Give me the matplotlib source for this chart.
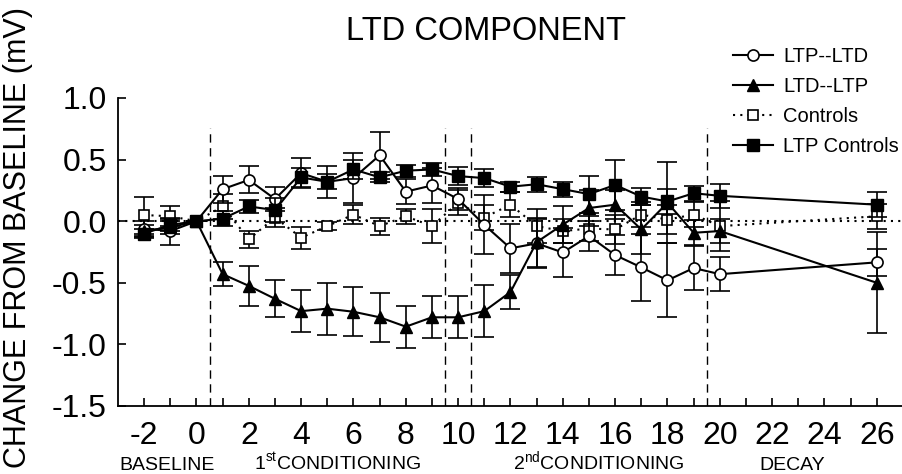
import matplotlib
matplotlib.use("Agg")
import matplotlib.pyplot as plt
from matplotlib.lines import Line2D
import numpy as np

plt.rcParams['font.family'] = ['Liberation Sans', 'DejaVu Sans']
plt.rcParams['mathtext.fontset'] = 'custom'
plt.rcParams['mathtext.rm'] = 'Liberation Sans'

sessions = [-2, -1, 0, 1, 2, 3, 4, 5, 6, 7, 8, 9, 10, 11, 12, 13, 14, 15, 16, 17, 18, 19, 20, 26]

ltp_ltd = [-0.06, -0.08, 0.0, 0.26, 0.335, 0.18, 0.39, 0.32, 0.35, 0.535, 0.24, 0.29, 0.18, -0.03,
           -0.22, -0.18, -0.254, -0.12, -0.275, -0.375, -0.48, -0.38, -0.43, -0.334]
ltp_ltd_err = [0.06, 0.11, 0.0, 0.11, 0.11, 0.10, 0.12, 0.13, 0.20, 0.19, 0.10, 0.14, 0.09, 0.24,
               0.20, 0.20, 0.20, 0.12, 0.16, 0.27, 0.30, 0.18, 0.14, 0.11]

ltd_ltp = [-0.08, -0.05, 0.0, -0.43, -0.525, -0.63, -0.73, -0.71, -0.735, -0.78, -0.856, -0.78, -0.78, -0.73,
           -0.575, -0.17, -0.027, 0.107, 0.134, -0.067, 0.15, -0.094, -0.08, -0.50]
ltd_ltp_err = [0.05, 0.05, 0.0, 0.10, 0.16, 0.15, 0.17, 0.21, 0.20, 0.20, 0.17, 0.17, 0.17, 0.21,
               0.14, 0.20, 0.15, 0.15, 0.12, 0.20, 0.33, 0.10, 0.10, 0.41]

controls = [0.05, 0.04, 0.0, 0.12, -0.147, 0.03, -0.134, -0.04, 0.054, -0.04, 0.04, -0.04, 0.15, 0.03,
            0.134, -0.04, -0.08, -0.06, -0.067, 0.054, 0.013, 0.054, -0.04, 0.04]
controls_err = [0.15, 0.08, 0.0, 0.10, 0.07, 0.08, 0.09, 0.03, 0.08, 0.07, 0.06, 0.14, 0.10, 0.10,
                0.10, 0.14, 0.10, 0.10, 0.12, 0.10, 0.12, 0.10, 0.20, 0.10]

ltp_controls = [-0.10, -0.03, 0.0, 0.02, 0.12, 0.09, 0.355, 0.32, 0.42, 0.356, 0.41, 0.42, 0.366, 0.35,
                0.28, 0.30, 0.26, 0.22, 0.294, 0.20, 0.16, 0.227, 0.206, 0.134]
ltp_controls_err = [0.04, 0.05, 0.0, 0.06, 0.05, 0.10, 0.08, 0.06, 0.08, 0.04, 0.05, 0.05, 0.07, 0.07,
                    0.04, 0.06, 0.06, 0.15, 0.20, 0.07, 0.10, 0.06, 0.10, 0.10]

series_names = ['LTP--LTD', 'LTD--LTP', 'Controls', 'LTP Controls']
xtick_values = list(range(-2, 27, 2))
ytick_values = [-1.5, -1.0, -0.5, 0.0, 0.5, 1.0]
phase_boundaries = [0.5, 9.5, 10.5, 19.5]
phase_labels = ['BASELINE', r'1$^{\mathrm{st}}$CONDITIONING', r'2$^{\mathrm{nd}}$CONDITIONING', 'DECAY']
phase_label_x = [167, 337, 599, 792]  # pixel centers

W, H = 903, 474
fig = plt.figure(figsize=(W / 100, H / 100), dpi=100)
ax = fig.add_axes([118 / W, 1 - 406 / H, 1 - 118 / W, (406 - 98) / H])

ax.set_xlim(-3, 27)
ax.set_ylim(-1.5, 1.0)
ax.spines['top'].set_visible(False)
ax.spines['right'].set_visible(False)
for s in ('left', 'bottom'):
    ax.spines[s].set_linewidth(1.3)

ax.axhline(0, color='black', linestyle=(0, (1, 2.5)), linewidth=1.5, zorder=1)
for xb in phase_boundaries:
    ax.plot([xb, xb], [-1.5, 0.76], color='black', linestyle=(0, (6, 4)), linewidth=1.0, zorder=1)

common = dict(color='black', ecolor='black', elinewidth=1.2, capsize=7, capthick=1.2, linewidth=1.5)
styles = [
    dict(marker='o', markersize=8, markerfacecolor='white', markeredgecolor='black', markeredgewidth=1.2,
         linestyle='-'),
    dict(marker='^', markersize=8, markerfacecolor='black', markeredgecolor='black', linestyle='-'),
    dict(marker='s', markersize=7.5, markerfacecolor='white', markeredgecolor='black', markeredgewidth=1.2,
         linestyle=(0, (1, 2.5))),
    dict(marker='s', markersize=8, markerfacecolor='black', markeredgecolor='black', linestyle='-'),
]
data = [(ltp_ltd, ltp_ltd_err), (ltd_ltp, ltd_ltp_err), (controls, controls_err),
        (ltp_controls, ltp_controls_err)]
zorders = [4, 4, 3, 5]
for (vals, errs), st, z in zip(data, styles, zorders):
    ax.errorbar(sessions, vals, yerr=errs, zorder=z, **common, **st)

ax.set_xticks(xtick_values)
ax.set_xticklabels([str(v) for v in xtick_values])
ax.set_xticks(range(-2, 27), minor=True)
ax.set_yticks(ytick_values)
ax.set_yticklabels([f'{v:.1f}' for v in ytick_values])
ax.tick_params(axis='both', which='both', direction='in', labelsize=23, width=1.2)
ax.tick_params(axis='x', which='major', length=6, pad=11)
ax.tick_params(axis='x', which='minor', length=6)
ax.tick_params(axis='y', which='major', length=6, pad=8)

fig.text(18 / W, 0.5, 'CHANGE FROM BASELINE (mV)', rotation=90, ha='center', va='center', fontsize=22)
fig.text(486 / W, 1 - 31 / H, 'LTD COMPONENT', ha='center', va='center', fontsize=23.5)
for lbl, px in zip(phase_labels, phase_label_x):
    fig.text(px / W, 1 - 470 / H, lbl, ha='center', va='baseline', fontsize=14)

handles = [Line2D([], [], color='black', linewidth=1.5, **st) for st in styles]
leg = fig.legend(handles, series_names, loc='upper left', bbox_to_anchor=(733 / W, 1 - 47 / H),
                 frameon=False, fontsize=14.5, handlelength=2.0, handletextpad=0.5, borderpad=0,
                 borderaxespad=0, labelspacing=0.55)

fig.savefig('out.png', dpi=100)
